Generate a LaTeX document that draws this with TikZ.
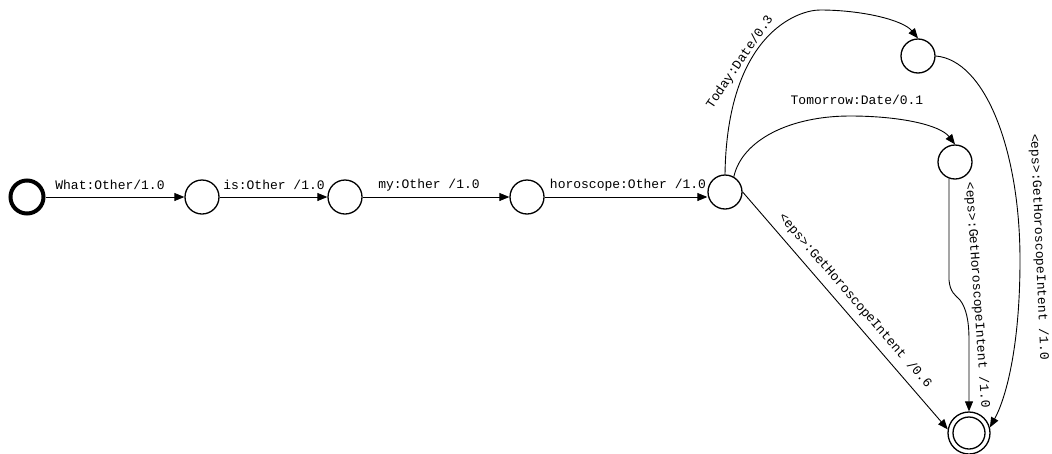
\documentclass[tikz,border=0pt]{standalone}
\usepackage{fontspec}
\newfontfamily\cour{Liberation Mono}
\usetikzlibrary{arrows.meta}
\begin{document}
\begin{tikzpicture}[x=1pt,y=-1pt,
  state/.style={circle,draw,line width=1.3pt,minimum size=34pt,inner sep=0pt},
  startstate/.style={circle,draw,line width=4pt,minimum size=33pt,inner sep=0pt},
  finalouter/.style={circle,draw,line width=1.3pt,minimum size=42pt,inner sep=0pt},
  finalinner/.style={circle,draw,line width=1.3pt,minimum size=32pt,inner sep=0pt},
  edge/.style={line width=0.9pt,-{Triangle[length=10pt,width=8pt]}},
  lab/.style={inner sep=0pt,font=\cour\fontsize{13}{15}\selectfont}]
\useasboundingbox (0,0) rectangle (1052,453);
% states
\node[startstate] (s0) at (27,197) {};
\node[state] (s1) at (202,197) {};
\node[state] (s2) at (345,197) {};
\node[state] (s3) at (527,197) {};
\node[state] (s4) at (725,192) {};
\node[state] (s5) at (918,56) {};
\node[state] (s6) at (955,162) {};
\node[finalouter] (s7) at (969,433) {};
\node[finalinner] (s7in) at (969,433) {};
% labels
\node[lab] (l1) at (110,185) {What:Other/1.0};
\node[lab] (l2) at (274,185) {is:Other /1.0};
\node[lab] (l3) at (429,185) {my:Other /1.0};
\node[lab] (l4) at (628,185) {horoscope:Other /1.0};
\node[lab,rotate=56] (l5) at (740,62) {Today:Date/0.3};
\node[lab] (l6) at (857,100) {Tomorrow:Date/0.1};
\node[lab,rotate=-49] (l7) at (855,301) {<eps>:GetHoroscopeIntent /0.6};
\node[lab,rotate=-86] (l8) at (977,295) {<eps>:GetHoroscopeIntent /1.0};
\node[lab,rotate=-87.5] (l9) at (1039,247) {<eps>:GetHoroscopeIntent /1.0};
% edges
\draw[edge] (s0) -- (s1);
\draw[edge] (s1) -- (s2);
\draw[edge] (s2) -- (s3);
\draw[edge] (s3.east) -- (s3.east -| s4.west);
\draw[edge] (s4.north) .. controls (727,35) and (797,10) .. (820,10)
  .. controls (862,10) and (903,20) .. (s5.north);
\draw[edge] (s4.60) .. controls (742,140) and (790,116) .. (850,116)
  .. controls (900,116) and (940,125) .. (s6.north);
\draw[edge] (s4.east) -- (s7.170);
\draw[edge] (s6.250) -- (949,280) .. controls (950,292) and (955,295) .. (960,300)
  .. controls (966,308) and (969,320) .. (969,340) -- (s7.north);
\draw[edge] (s5.east) .. controls (985,60) and (1020,150) .. (1020,260)
  .. controls (1020,350) and (1005,400) .. (s7.15);
\end{tikzpicture}
\end{document}
